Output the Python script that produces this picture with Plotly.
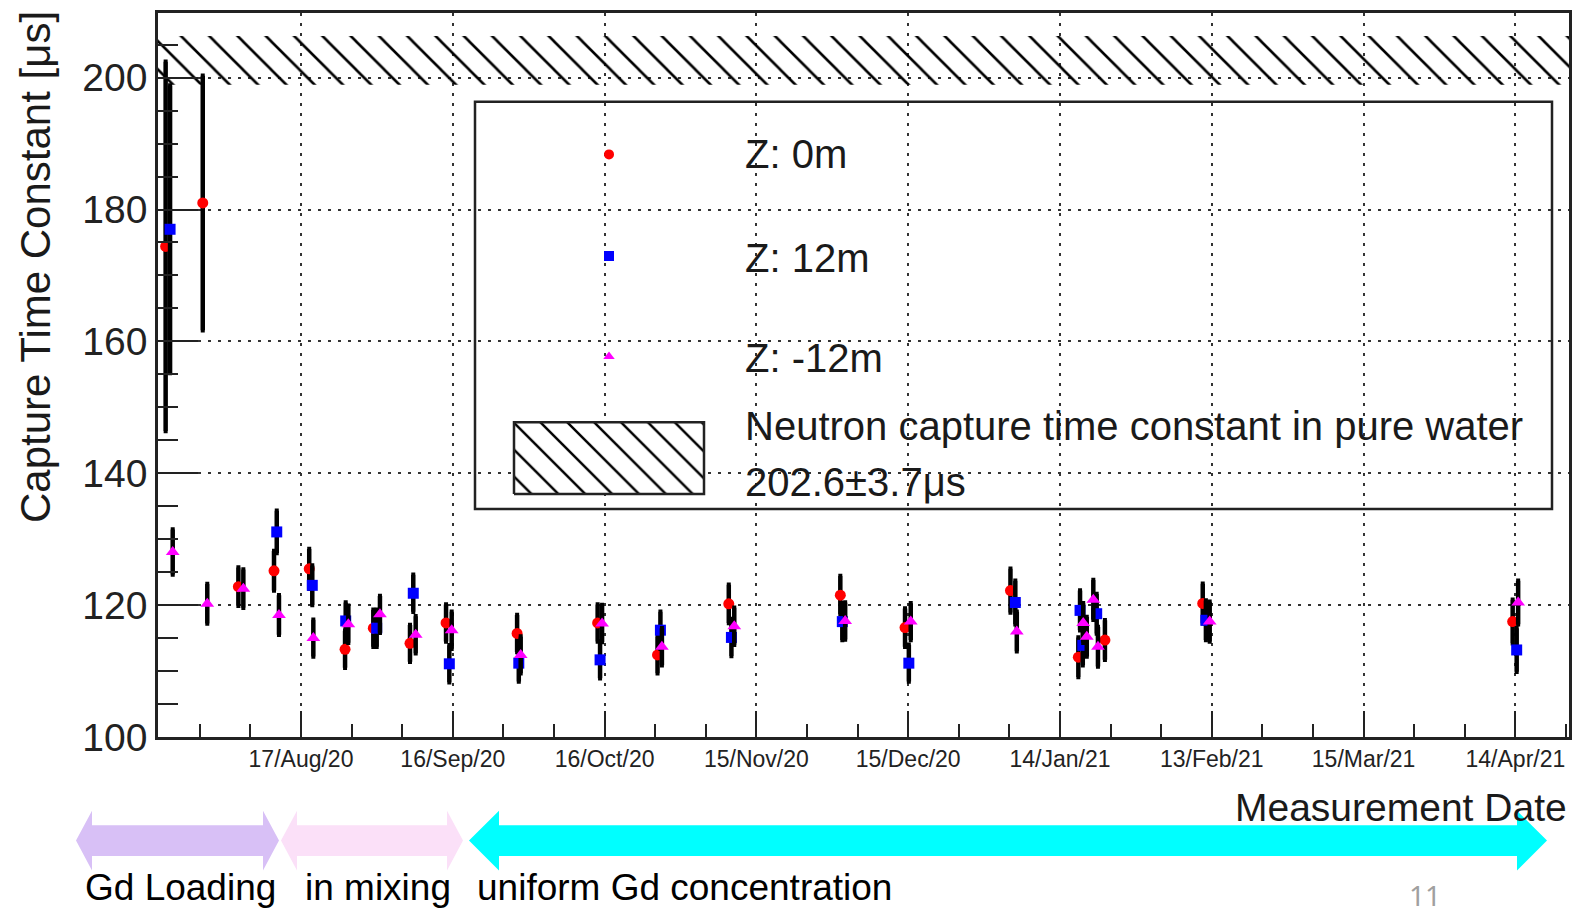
import plotly.graph_objects as go

# ---------------- data ----------------
red_dates = ['2020-07-21 06:00', '2020-07-28 14:00', '2020-08-04 15:00', '2020-08-11 16:00',
             '2020-08-18 15:00', '2020-08-25 17:00', '2020-08-31 07:00', '2020-09-07 13:00',
             '2020-09-14 16:00', '2020-09-28 17:00', '2020-10-14 15:00', '2020-10-26 11:00',
             '2020-11-09 13:00', '2020-12-01 14:00', '2020-12-14 09:00', '2021-01-04 05:00',
             '2021-01-17 15:00', '2021-01-22 21:00', '2021-02-11 05:00', '2021-04-13 11:00']
red_vals = [174.4, 181.0, 122.8, 125.2, 125.5, 113.3, 116.5, 114.2, 117.3, 115.7,
            117.3, 112.45, 120.2, 121.5, 116.6, 122.2, 112.1, 114.7, 120.25, 117.5]
red_errs = [28.0, 19.3, 2.9, 3.0, 3.0, 2.8, 2.8, 2.8, 2.8, 2.8,
            2.8, 2.8, 2.9, 2.9, 2.9, 3.3, 3.0, 3.0, 3.0, 3.3]

blue_dates = ['2020-07-22 03:00', '2020-08-12 05:00', '2020-08-19 05:30', '2020-08-25 20:00',
              '2020-08-31 23:00', '2020-09-08 04:30', '2020-09-15 07:30', '2020-09-29 01:00',
              '2020-10-15 02:30', '2020-10-27 00:45', '2020-11-10 01:30', '2020-12-01 23:30',
              '2020-12-15 03:00', '2021-01-05 04:00', '2021-01-17 23:00', '2021-01-18 12:00',
              '2021-01-21 06:00', '2021-02-11 20:00', '2021-04-14 06:00']
blue_vals = [177.0, 131.1, 123.0, 117.6, 116.5, 121.8, 111.1, 111.2, 111.7, 116.2,
             115.1, 117.5, 111.2, 120.4, 119.2, 113.9, 118.7, 117.7, 113.2]
blue_errs = [21.8, 3.2, 3.0, 2.8, 2.8, 2.8, 2.8, 2.8, 2.8, 2.8,
             2.8, 2.8, 2.8, 3.3, 3.0, 3.0, 3.0, 3.0, 3.3]

mag_dates = ['2020-07-22 15:30', '2020-07-29 11:30', '2020-08-05 14:30', '2020-08-12 15:30',
             '2020-08-19 10:30', '2020-08-26 08:30', '2020-09-01 14:30', '2020-09-08 16:00',
             '2020-09-15 18:45', '2020-09-29 10:00', '2020-10-15 12:00', '2020-10-27 07:45',
             '2020-11-10 15:00', '2020-12-02 13:00', '2020-12-15 12:00', '2021-01-05 11:00',
             '2021-01-18 14:00', '2021-01-19 07:00', '2021-01-20 14:00', '2021-01-21 12:00',
             '2021-02-12 14:00', '2021-04-14 13:00']
mag_vals = [128.05, 120.2, 122.5, 118.5, 115.0, 117.1, 118.6, 115.5, 116.2, 112.45,
            117.2, 113.7, 116.8, 117.6, 117.5, 116.0, 117.3, 115.2, 120.8, 113.7,
            117.5, 120.4]
mag_errs = [3.4, 3.0, 2.9, 3.0, 2.8, 2.8, 2.8, 2.8, 2.8, 2.8,
            2.8, 2.8, 2.8, 2.8, 2.8, 3.0, 3.0, 3.0, 3.0, 3.0,
            3.0, 3.3]

water_center = 202.6
water_err = 3.7

x_range = ['2020-07-19 17:45', '2021-04-24 14:10']
y_range = [100, 209.8]
tick_dates = ['2020-08-17', '2020-09-16', '2020-10-16', '2020-11-15', '2020-12-15',
              '2021-01-14', '2021-02-13', '2021-03-15', '2021-04-14']
tick_labels = ['17/Aug/20', '16/Sep/20', '16/Oct/20', '15/Nov/20', '15/Dec/20',
               '14/Jan/21', '13/Feb/21', '15/Mar/21', '14/Apr/21']
y_ticks = [100, 120, 140, 160, 180, 200]

# ---------------- layout helpers ----------------
W, H = 1588, 917
L, R, T, B = 158, 19, 10, 180
PW, PH = W - L - R, H - T - B


def fx(px):
    return (px - L) / PW


def fy(py):
    return (H - B - py) / PH


FONT = 'Liberation Sans, Arial, Helvetica, sans-serif'

fig = go.Figure()

# hatched band: pure water capture time
fig.add_trace(go.Scatter(
    x=[x_range[0], x_range[1], x_range[1], x_range[0], x_range[0]],
    y=[water_center - water_err, water_center - water_err,
       water_center + water_err, water_center + water_err, water_center - water_err],
    mode='none', fill='toself', fillcolor='rgba(0,0,0,0)',
    fillpattern=dict(shape='\\', fgcolor='#000000', fgopacity=1,
                     bgcolor='rgba(255,255,255,0)', size=20, solidity=0.13),
    hoverinfo='skip', showlegend=False))

err_style = dict(type='data', color='black', thickness=4.5, width=2)

fig.add_trace(go.Scatter(
    x=red_dates, y=red_vals, mode='markers', name='Z: 0m',
    error_y=dict(array=red_errs, **err_style),
    marker=dict(symbol='circle', size=11, color='#ff0000', line=dict(width=0)),
    showlegend=False))
fig.add_trace(go.Scatter(
    x=blue_dates, y=blue_vals, mode='markers', name='Z: 12m',
    error_y=dict(array=blue_errs, **err_style),
    marker=dict(symbol='square', size=11, color='#0000ff', line=dict(width=0)),
    showlegend=False))
fig.add_trace(go.Scatter(
    x=mag_dates, y=mag_vals, mode='markers', name='Z: -12m',
    error_y=dict(array=mag_errs, **err_style),
    marker=dict(symbol='triangle-up', size=12, color='#ff00ff', line=dict(width=0)),
    showlegend=False))

# ---- manual legend (overlay axes in plot-fraction coordinates) ----
leg_x = fx(609)
fig.add_trace(go.Scatter(x=[leg_x], y=[fy(152)], xaxis='x2', yaxis='y2', mode='markers',
                         marker=dict(symbol='circle', size=10, color='#ff0000'),
                         hoverinfo='skip', showlegend=False))
fig.add_trace(go.Scatter(x=[leg_x], y=[fy(254)], xaxis='x2', yaxis='y2', mode='markers',
                         marker=dict(symbol='square', size=10, color='#0000ff'),
                         hoverinfo='skip', showlegend=False))
fig.add_trace(go.Scatter(x=[leg_x], y=[fy(355)], xaxis='x2', yaxis='y2', mode='markers',
                         marker=dict(symbol='triangle-up', size=10, color='#ff00ff'),
                         hoverinfo='skip', showlegend=False))
fig.add_trace(go.Scatter(
    x=[fx(514), fx(704), fx(704), fx(514), fx(514)],
    y=[fy(493), fy(493), fy(421), fy(421), fy(493)],
    xaxis='x2', yaxis='y2', mode='lines', fill='toself', fillcolor='white',
    line=dict(color='#222222', width=2.5),
    fillpattern=dict(shape='\\', fgcolor='#000000', fgopacity=1, bgcolor='white',
                     size=19, solidity=0.13),
    hoverinfo='skip', showlegend=False))

shapes = []
# legend frame
shapes.append(dict(type='rect', xref='paper', yref='paper',
                   x0=fx(475), x1=fx(1552), y0=fy(508), y1=fy(99),
                   line=dict(color='#222222', width=2.5), fillcolor='white', layer='between'))


def arrow_path(xl, xr, yc, sh, hh, hl_l, hl_r):
    pts = [(xl, yc), (xl + hl_l, yc - hh), (xl + hl_l, yc - sh),
           (xr - hl_r, yc - sh), (xr - hl_r, yc - hh), (xr, yc),
           (xr - hl_r, yc + hh), (xr - hl_r, yc + sh),
           (xl + hl_l, yc + sh), (xl + hl_l, yc + hh)]
    return 'M ' + ' L '.join(f'{fx(px):.5f},{fy(py):.5f}' for px, py in pts) + ' Z'


phase_arrows = [
    (76, 279, '#d8c0f6', 16),
    (281, 463, '#fbe0f8', 16),
    (469, 1547, '#00ffff', 30),
]
for xl, xr, col, hl in phase_arrows:
    shapes.append(dict(type='path', xref='paper', yref='paper',
                       path=arrow_path(xl, xr, 841, 15.5, 30, hl, hl),
                       fillcolor=col, line=dict(width=0), layer='above'))

annotations = []
leg_font = dict(family=FONT, size=40, color='#1a1a1a')
for txt, py in [('Z: 0m', 152), ('Z: 12m', 256), ('Z: -12m', 356),
                ('Neutron capture time constant in pure water', 425),
                ('202.6±3.7μs', 481)]:
    annotations.append(dict(x=fx(743), y=fy(py), xref='paper', yref='paper', text=txt,
                            showarrow=False, xanchor='left', yanchor='middle', font=leg_font))

annotations.append(dict(x=fx(1569), y=fy(808), xref='paper', yref='paper',
                        text='Measurement Date', showarrow=False, xanchor='right',
                        yanchor='middle', font=dict(family=FONT, size=39, color='#1a1a1a')))
annotations.append(dict(x=fx(35), y=fy(6), xref='paper', yref='paper',
                        text='Capture Time Constant [μs]', showarrow=False, textangle=-90,
                        xanchor='center', yanchor='top',
                        font=dict(family=FONT, size=42, color='#1a1a1a')))

for txt, cx in [('Gd Loading', 180), ('in mixing', 378), ('uniform Gd concentration', 684)]:
    annotations.append(dict(x=fx(cx), y=fy(888), xref='paper', yref='paper', text=txt,
                            showarrow=False, xanchor='center', yanchor='middle',
                            font=dict(family=FONT, size=37, color='black')))

annotations.append(dict(x=fx(1425), y=fy(896), xref='paper', yref='paper', text='11',
                        showarrow=False, xanchor='center', yanchor='middle',
                        font=dict(family='Noto Sans, sans-serif', size=28, color='#a0a0a0')))

grid_dash = '3px,7px'
fig.update_layout(
    width=W, height=H,
    margin=dict(l=L, r=R, t=T, b=B, pad=0),
    paper_bgcolor='white', plot_bgcolor='white',
    shapes=shapes, annotations=annotations,
    showlegend=False,
    xaxis=dict(type='date', range=x_range, tickmode='array', tickvals=tick_dates,
               ticktext=tick_labels, ticks='inside', ticklen=26, tickwidth=2,
               tickcolor='#222222',
               minor=dict(ticks='inside', ticklen=13, tickwidth=2, tickcolor='#222222',
                          dtick=864000000, tick0='2020-07-28', showgrid=False),
               showgrid=True, gridcolor='#333333', gridwidth=2, griddash=grid_dash,
               showline=True, linecolor='#222222', linewidth=2.5, mirror=True,
               tickfont=dict(family=FONT, size=23, color='#222222'),
               zeroline=False),
    yaxis=dict(range=y_range, tickmode='array', tickvals=y_ticks, ticks='inside',
               ticklen=40, tickwidth=2, tickcolor='#222222',
               minor=dict(ticks='inside', ticklen=20, tickwidth=2, tickcolor='#222222',
                          dtick=5, tick0=100, showgrid=False),
               showgrid=True, gridcolor='#333333', gridwidth=2, griddash=grid_dash,
               showline=True, linecolor='#222222', linewidth=2.5, mirror=True,
               tickfont=dict(family=FONT, size=39, color='#222222'),
               zeroline=False, ticklabelstandoff=0),
    xaxis2=dict(overlaying='x', range=[0, 1], visible=False, fixedrange=True),
    yaxis2=dict(overlaying='y', range=[0, 1], visible=False, fixedrange=True),
)

fig.write_html('out.html')
